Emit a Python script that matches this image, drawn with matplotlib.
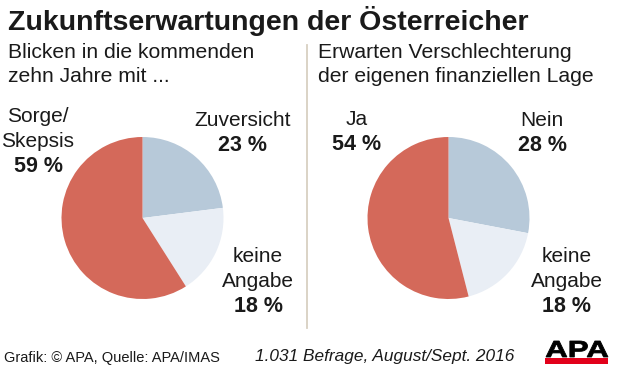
import matplotlib
matplotlib.use("Agg")
import matplotlib.pyplot as plt
from matplotlib.patches import Rectangle, PathPatch
from matplotlib.textpath import TextPath
from matplotlib.font_manager import FontProperties
from matplotlib.transforms import Affine2D
from matplotlib.lines import Line2D

plt.rcParams['font.family'] = ['Liberation Sans', 'DejaVu Sans']

# ---- data ----
title = "Zukunftserwartungen der Österreicher"
left_subtitle = ["Blicken in die kommenden", "zehn Jahre mit ..."]
right_subtitle = ["Erwarten Verschlechterung", "der eigenen finanziellen Lage"]

left_categories = [["Zuversicht"], ["keine", "Angabe"], ["Sorge/", "Skepsis"]]
left_values = [23, 18, 59]
right_categories = [["Nein"], ["keine", "Angabe"], ["Ja"]]
right_values = [28, 18, 54]

source_text = "Grafik: © APA, Quelle: APA/IMAS"
note_text = "1.031 Befrage, August/Sept. 2016"

colors = ["#b7c9d9", "#e9eef5", "#d4695a"]

W, H = 620, 377
fig = plt.figure(figsize=(W / 100, H / 100), dpi=100)
fig.patch.set_facecolor("white")


def fx(x):
    return x / W


def fy(y):
    return 1 - y / H


TXT = "#1a1a1a"

# title
fig.text(fx(8), fy(30), title, fontsize=20.5, fontweight="bold", color=TXT,
         ha="left", va="baseline")

# subtitles
for i, line in enumerate(left_subtitle):
    fig.text(fx(8), fy(58 + 24 * i), line, fontsize=15.2, color=TXT,
             ha="left", va="baseline")
for i, line in enumerate(right_subtitle):
    fig.text(fx(318), fy(58 + 24 * i), line, fontsize=15.2, color=TXT,
             ha="left", va="baseline")

# divider
fig.add_artist(Line2D([fx(307), fx(307)], [fy(45), fy(328)], color="#d8d0c2",
                      lw=1.3, transform=fig.transFigure))

# pies
r = 81
for cx, vals in [(142.5, left_values), (448.5, right_values)]:
    cy = 218
    ax = fig.add_axes([fx(cx - r), fy(cy + r), 2 * r / W, 2 * r / H])
    ax.pie(vals, colors=colors, startangle=90, counterclock=False,
           wedgeprops=dict(linewidth=0))
    ax.set_xlim(-1, 1)
    ax.set_ylim(-1, 1)
    ax.set_aspect("equal")
    ax.axis("off")

# labels: positions (center x, first baseline y) for each category
label_pos_left = [(243, 126), (258, 262), (38, 122)]
label_pos_right = [(542, 126), (567, 262), (357, 125)]
LS = 25
for cats, vals, poss in [(left_categories, left_values, label_pos_left),
                         (right_categories, right_values, label_pos_right)]:
    for lines, v, (x, y) in zip(cats, vals, poss):
        for j, line in enumerate(lines):
            fig.text(fx(x), fy(y + LS * j), line, fontsize=15, color=TXT,
                     ha="center", va="baseline")
        fig.text(fx(x), fy(y + LS * len(lines)), f"{v} %", fontsize=15.5,
                 fontweight="bold", color=TXT, ha="center", va="baseline")

# footer
fig.text(fx(4), fy(362), source_text, fontsize=10.5, color=TXT,
         ha="left", va="baseline")
fig.text(fx(255), fy(361), note_text, fontsize=12.4, style="italic",
         color=TXT, ha="left", va="baseline")

# APA logo
fp = FontProperties(family="Liberation Sans", weight="bold")
tp = TextPath((0, 0), "APA", size=1, prop=fp)
bb = tp.get_extents()
logo_x0, logo_x1 = 546, 608
logo_top, logo_base = 341, 357
sx = (logo_x1 - logo_x0) / bb.width
sy = (logo_base - logo_top) / bb.height
tr = Affine2D().translate(-bb.x0, -bb.y0).scale(sx, sy).translate(logo_x0, H - logo_base)
patch = PathPatch(tr.transform_path(tp), facecolor="black", edgecolor="black", lw=0.6,
                  transform=None)
# transform=None means display coords (pixels at dpi 100)
fig.add_artist(patch)
fig.add_artist(Rectangle((fx(545), fy(364)), (608 - 545) / W, 6 / H,
                         facecolor="#e2001a", edgecolor="none",
                         transform=fig.transFigure))

fig.savefig("out.png", dpi=100, facecolor="white")
